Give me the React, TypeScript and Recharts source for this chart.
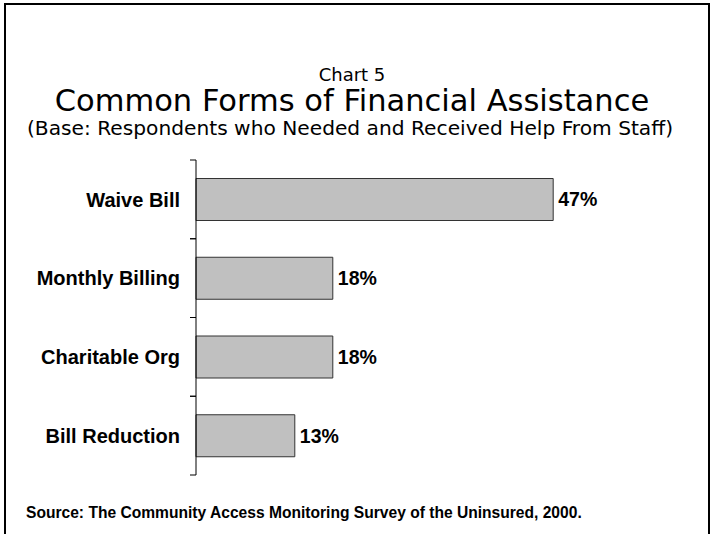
import React from 'react';
import { BarChart, Bar, XAxis, YAxis, LabelList } from 'recharts';

const categories = ['Waive Bill', 'Monthly Billing', 'Charitable Org', 'Bill Reduction'];
const percents = [47, 18, 18, 13];

const data = categories.map((name, i) => ({ name, value: percents[i] }));

const TITLE_FONT = '"DejaVu Sans", sans-serif';
const BOLD_FONT = '"Liberation Sans", Arial, sans-serif';

const CHART_W = 713;
const CHART_H = 534;
const MARGIN = { top: 160, right: 61, bottom: 59, left: 0 };
const HALF_BAND = (CHART_H - MARGIN.top - MARGIN.bottom) / categories.length / 2;

// category name plus the little marks at both band edges
const CategoryTick = (props: any) => {
  const { x, y, payload } = props;
  return (
    <g>
      <line x1={x - 6} y1={y - HALF_BAND} x2={x} y2={y - HALF_BAND} stroke="#000" strokeWidth={1} />
      <line x1={x - 6} y1={y + HALF_BAND} x2={x} y2={y + HALF_BAND} stroke="#000" strokeWidth={1} />
      <text
        x={x - 16}
        y={y}
        dy="0.36em"
        textAnchor="end"
        fill="#000"
        fontFamily={BOLD_FONT}
        fontWeight="bold"
        fontSize={20}
      >
        {payload.value}
      </text>
    </g>
  );
};

export default function App() {
  return (
    <div style={{ position: 'absolute', left: 0, top: 0, width: CHART_W, height: CHART_H, background: '#fff', overflow: 'hidden' }}>
      <svg width={CHART_W} height={CHART_H} style={{ position: 'absolute', left: 0, top: 0 }}>
        <rect x={5} y={4} width={704} height={560} fill="none" stroke="#000" strokeWidth={2} />
        <text x={352} y={81} textAnchor="middle" fontFamily={TITLE_FONT} fontSize={18} fill="#000">
          Chart 5
        </text>
        <text x={352} y={111} textAnchor="middle" fontFamily={TITLE_FONT} fontSize={30.5} fill="#000">
          Common Forms of Financial Assistance
        </text>
        <text x={350} y={135} textAnchor="middle" fontFamily={TITLE_FONT} fontSize={20.2} fill="#000">
          (Base: Respondents who Needed and Received Help From Staff)
        </text>
        <text x={26} y={518} fontFamily={BOLD_FONT} fontWeight="bold" fontSize={15.6} fill="#000">
          Source: The Community Access Monitoring Survey of the Uninsured, 2000.
        </text>
      </svg>
      <div style={{ position: 'absolute', left: 0, top: 0 }}>
        <BarChart
          width={CHART_W}
          height={CHART_H}
          data={data}
          layout="vertical"
          margin={MARGIN}
          barCategoryGap="23.5%"
        >
          <XAxis type="number" domain={[0, 60]} hide />
          <YAxis
            type="category"
            dataKey="name"
            width={196}
            tickSize={0}
            tickMargin={0}
            tickLine={false}
            axisLine={{ stroke: '#000', strokeWidth: 1 }}
            tick={<CategoryTick />}
            interval={0}
          />
          <Bar
            dataKey="value"
            fill="#c0c0c0"
            stroke="#333"
            strokeWidth={1}
            isAnimationActive={false}
          >
            <LabelList
              dataKey="value"
              position="right"
              offset={5}
              formatter={(v: any) => `${v}%`}
              fill="#000"
              fontFamily={BOLD_FONT}
              fontWeight="bold"
              fontSize={19.5}
            />
          </Bar>
        </BarChart>
      </div>
    </div>
  );
}
